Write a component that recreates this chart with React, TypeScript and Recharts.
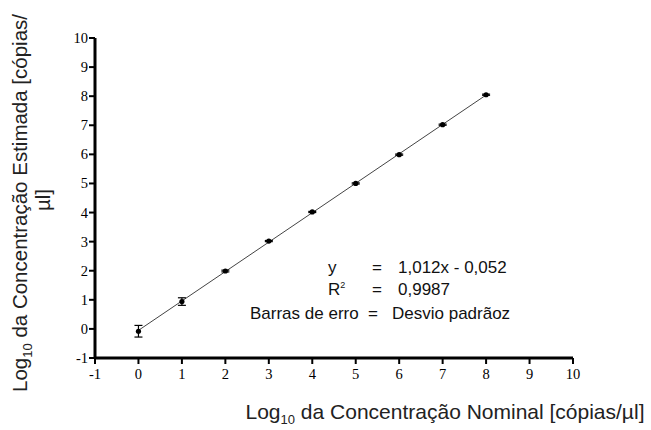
import React from 'react'
import { ComposedChart, Scatter, Line, XAxis, YAxis, ErrorBar } from 'recharts'

const nominal = [0, 1, 2, 3, 4, 5, 6, 7, 8]
const estimated = [-0.08, 0.94, 1.99, 3.02, 4.02, 5.0, 5.99, 7.02, 8.05]
const stdDev = [0.2, 0.13, 0.03, 0.02, 0.02, 0.02, 0.02, 0.02, 0.02]
const fitX = [0, 8]
const fitY = [-0.05, 8.04]
const axisTicks = [-1, 0, 1, 2, 3, 4, 5, 6, 7, 8, 9, 10]

const points = nominal.map((x, i) => ({ x, y: estimated[i], sd: stdDev[i] }))
const fitLine = fitX.map((x, i) => ({ x, fit: fitY[i] }))

const sans = '"Liberation Sans", Arial, sans-serif'
const serif = '"Liberation Serif", "Times New Roman", serif'

const Dot = (props: any) => <circle cx={props.cx} cy={props.cy} r={2.6} fill="#000" />

const XTick = (props: any) => (
  <text x={props.x} y={props.y + 13} textAnchor="middle" fontFamily={serif} fontSize={14.5} fill="#000">
    {props.payload.value}
  </text>
)

const YTick = (props: any) => (
  <text x={props.x} y={props.y + 5} textAnchor="end" fontFamily={serif} fontSize={14.5} fill="#000">
    {props.payload.value}
  </text>
)

const YTitle = () => (
  <g fontFamily={sans} fontSize={20.5} fill="#222">
    <text x={27} y={203} transform="rotate(-90, 27, 203)" textAnchor="middle">
      Log<tspan fontSize={13} dy={5}>10</tspan>
      <tspan dy={-5}> da Concentração Estimada [cópias/</tspan>
    </text>
    <text x={50} y={200} transform="rotate(-90, 50, 200)" textAnchor="middle">
      µl]
    </text>
  </g>
)

const XTitle = () => (
  <text x={445} y={419} textAnchor="middle" fontFamily={sans} fontSize={21} fill="#222">
    Log<tspan fontSize={13} dy={5}>10</tspan>
    <tspan dy={-5}> da Concentração Nominal [cópias/µl]</tspan>
  </text>
)

export default function App() {
  return (
    <div style={{ position: 'absolute', left: 0, top: 0, background: '#fff' }}>
      <ComposedChart width={651} height={430} margin={{ top: 38, right: 78, bottom: 0, left: 0 }}>
        <XAxis
          type="number"
          dataKey="x"
          domain={[-1, 10]}
          ticks={axisTicks}
          interval={0}
          height={72}
          axisLine={{ stroke: '#000', strokeWidth: 3 }}
          tickLine={{ stroke: '#000', strokeWidth: 2 }}
          tickSize={6}
          tickMargin={2}
          tick={<XTick />}
          label={{ content: () => <XTitle /> }}
        />
        <YAxis
          type="number"
          domain={[-1, 10]}
          ticks={axisTicks}
          interval={0}
          width={95}
          axisLine={{ stroke: '#000', strokeWidth: 3 }}
          tickLine={{ stroke: '#000', strokeWidth: 2 }}
          tickSize={6}
          tickMargin={1}
          tick={<YTick />}
          label={{ content: () => <YTitle /> }}
        />
        <Line
          data={fitLine}
          dataKey="fit"
          stroke="#444"
          strokeWidth={1}
          dot={false}
          isAnimationActive={false}
        />
        <Scatter data={points} dataKey="y" shape={Dot} isAnimationActive={false}>
          <ErrorBar dataKey="sd" direction="y" width={4} stroke="#000" strokeWidth={1.2} />
        </Scatter>
      </ComposedChart>
      <div
        style={{
          position: 'absolute',
          left: 240,
          top: 257,
          fontFamily: sans,
          fontSize: 17,
          color: '#111',
          lineHeight: '22px',
        }}
      >
        <div style={{ display: 'grid', gridTemplateColumns: '132px 22px auto' }}>
          <span style={{ paddingLeft: 88 }}>y</span>
          <span>=</span>
          <span style={{ paddingLeft: 4 }}>1,012x - 0,052</span>
          <span style={{ paddingLeft: 88 }}>
            R<span style={{ fontSize: 9, position: 'relative', top: -7 }}>2</span>
          </span>
          <span>=</span>
          <span style={{ paddingLeft: 4 }}>0,9987</span>
          <span style={{ paddingLeft: 10 }}>Barras de erro</span>
          <span style={{ marginLeft: -4 }}>=</span>
          <span style={{ marginLeft: -2 }}>Desvio padrãoz</span>
        </div>
      </div>
    </div>
  )
}
